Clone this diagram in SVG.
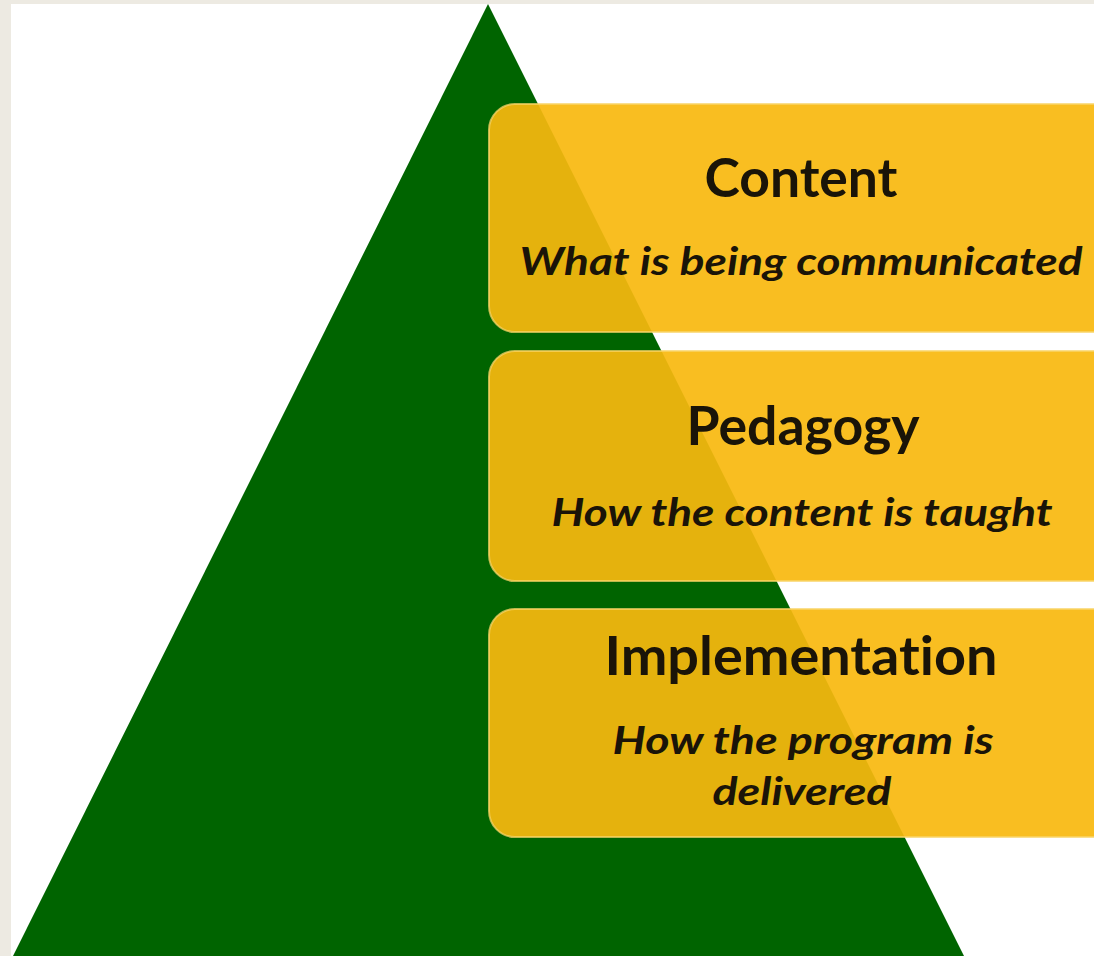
<svg xmlns="http://www.w3.org/2000/svg" width="1094" height="956" viewBox="0 0 1094 956">
  <style>
    .box { fill: #f9b90e; fill-opacity: 0.92; stroke: #f8d468; stroke-opacity: 0.75; stroke-width: 2; }
    .title { font-family: Lato, "Open Sans", "Liberation Sans", sans-serif; font-weight: bold; font-size: 54px; fill: #1a1408; text-anchor: middle; font-variant-ligatures: none; }
    .sub { font-family: Lato, "Open Sans", "Liberation Sans", sans-serif; font-weight: bold; font-style: italic; font-size: 39px; fill: #1a1408; text-anchor: middle; font-variant-ligatures: none; }
  </style>
  <rect x="0" y="0" width="1094" height="956" fill="#edeae2"/>
  <rect x="11" y="4" width="1083" height="952" fill="#ffffff"/>
  <g id="pyramid">
    <polygon points="488,4 13,956 964,956" fill="#006400"/>
  </g>
  <g id="content">
    <rect class="box" x="489" y="104" width="630" height="228" rx="26"/>
    <text class="title" x="801" y="197" textLength="193" lengthAdjust="spacingAndGlyphs">Content</text>
    <text class="sub" x="801" y="275" textLength="563" lengthAdjust="spacingAndGlyphs">What is being communicated</text>
  </g>
  <g id="pedagogy">
    <rect class="box" x="489" y="351" width="630" height="230" rx="26"/>
    <text class="title" x="803" y="445" textLength="233" lengthAdjust="spacingAndGlyphs">Pedagogy</text>
    <text class="sub" x="802" y="526" textLength="501" lengthAdjust="spacingAndGlyphs">How the content is taught</text>
  </g>
  <g id="implementation">
    <rect class="box" x="489" y="609" width="630" height="228" rx="26"/>
    <text class="title" x="801" y="675" textLength="393" lengthAdjust="spacingAndGlyphs">Implementation</text>
    <text class="sub" x="803" y="754" textLength="381" lengthAdjust="spacingAndGlyphs">How the program is</text>
    <text class="sub" x="802" y="805" textLength="179" lengthAdjust="spacingAndGlyphs">delivered</text>
  </g>
  <g id="connectors"/>
</svg>
